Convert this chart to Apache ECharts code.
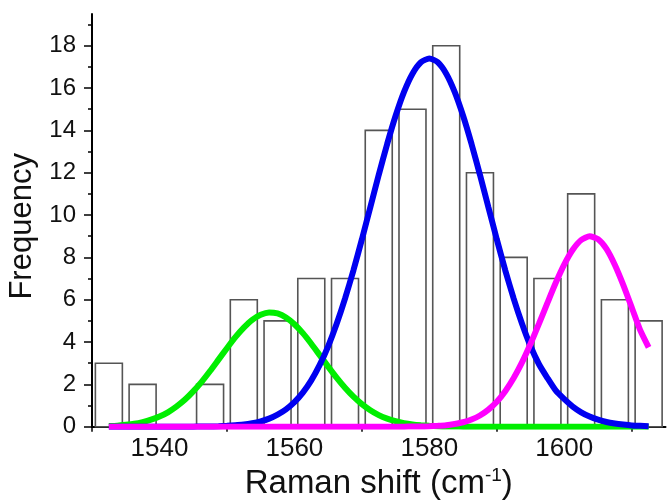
<!DOCTYPE html>
<html>
<head>
<meta charset="utf-8">
<script src="https://cdn.jsdelivr.net/npm/echarts@6/dist/echarts.min.js"></script>
<style>
html,body{margin:0;padding:0;background:#fff;}
#chart{width:667px;height:501px;}
</style>
</head>
<body>
<div id="chart"></div>
<script>
// Histogram bins (Raman shift, cm^-1) and counts
const binCenters = [1532.5,1537.5,1542.5,1547.5,1552.5,1557.5,1562.5,1567.5,1572.5,1577.5,1582.5,1587.5,1592.5,1597.5,1602.5,1607.5,1612.5];
const counts     = [3,2,0,2,6,5,7,7,14,15,18,12,8,7,11,6,5];

// Fitted peak curves
const fitX = [1532.5,1533.75,1535,1536.25,1537.5,1538.75,1540,1541.25,1542.5,1543.75,1545,1546.25,1547.5,1548.75,1550,1551.25,1552.5,1553.75,1555,1556.25,1557.5,1558.75,1560,1561.25,1562.5,1563.75,1565,1566.25,1567.5,1568.75,1570,1571.25,1572.5,1573.75,1575,1576.25,1577.5,1578.75,1580,1581.25,1582.5,1583.75,1585,1586.25,1587.5,1588.75,1590,1591.25,1592.5,1593.75,1595,1596.25,1597.5,1598.75,1600,1601.25,1602.5,1603.75,1605,1606.25,1607.5,1608.75,1610,1611.25,1612.5];
const greenFit = [0.03,0.05,0.09,0.14,0.22,0.33,0.48,0.68,0.95,1.27,1.67,2.12,2.63,3.17,3.71,4.23,4.68,5.05,5.29,5.40,5.35,5.16,4.84,4.42,3.92,3.38,2.84,2.32,1.84,1.42,1.07,0.78,0.55,0.38,0.26,0.17,0.11,0.07,0.04,0.02,0.01,0.01,
  0,0,0,0,0,0,0,0,0,0,0,0,0,0,0,0,0,0,0,0,0,0,0];
const blueFit = [0,0,0,0,0,0,0,0,0,0,0,
  0.01,0.01,0.02,0.04,0.07,0.10,0.16,0.25,0.38,0.57,0.82,1.16,1.61,2.19,2.92,3.80,4.85,6.05,7.39,8.85,10.37,11.90,13.36,14.69,15.82,16.68,17.22,17.40,17.22,16.68,
  15.82,14.69,13.36,11.90,10.37,8.85,7.39,6.05,4.85,3.80,2.95,2.30,1.70,1.30,0.95,0.68,0.48,0.33,0.22,0.15,0.10,0.06,0.04,0.02];
const magentaFit = [0,0,0,0,0,0,0,0,0,0,0,0,0,0,0,0,0,0,0,0,0,0,0,0,0,0,0,0,0,0,0,0,0,0,0,0,
  0.01,0.01,0.02,0.04,0.07,0.13,0.21,0.34,0.53,0.81,1.18,1.68,2.30,3.05,3.92,4.87,5.85,6.81,7.67,8.36,8.82,9.00,8.86,8.40,7.64,6.69,5.63,4.56,3.75];

// Axis ticks / labels
const xTickValues  = [1530,1550,1570,1590,1610];
const xLabelValues = [1540,1560,1580,1600];
const yLabelValues = [0,2,4,6,8,10,12,14,16,18];
const yMinorValues = [1,3,5,7,9,11,13,15,17,19];

const FONT = 'Liberation Sans, Arial, sans-serif';
const binHalf = 2; // drawn bar half-width in x units (80% of bin)

const pair = (xs, ys) => xs.map((x, i) => [x, ys[i]]);
const plain = v => String(v);

const chart = echarts.init(document.getElementById('chart'), null, {renderer: 'canvas'});
chart.setOption({
  animation: false,
  backgroundColor: '#ffffff',
  grid: {left: 92, right: 1.5, top: 14, bottom: 74.3, containLabel: false, outerBoundsMode: 'none'},
  xAxis: {
    type: 'value', min: 1530, max: 1615,
    axisLine: {show: true, onZero: false, lineStyle: {color: '#000', width: 2}},
    axisTick: {show: true, inside: false, length: 5, customValues: xTickValues, lineStyle: {color: '#000', width: 1.5}},
    axisLabel: {customValues: xLabelValues, formatter: plain, fontFamily: FONT, fontSize: 26, color: '#111', margin: 9},
    splitLine: {show: false},
    name: 'Raman shift (cm{sup|-1})',
    nameLocation: 'middle', nameGap: 39,
    nameTextStyle: {fontFamily: FONT, fontSize: 33, color: '#111',
      rich: {sup: {fontFamily: FONT, fontSize: 19, color: '#111', padding: [0, 0, 16, 0]}}}
  },
  yAxis: [{
    type: 'value', min: 0, max: 19.5,
    axisLine: {show: true, onZero: false, lineStyle: {color: '#000', width: 2}},
    axisTick: {show: true, inside: false, length: 8, customValues: yLabelValues, lineStyle: {color: '#000', width: 1.5}},
    axisLabel: {customValues: yLabelValues, formatter: plain, fontFamily: FONT, fontSize: 24, color: '#111', margin: 16},
    splitLine: {show: false},
    name: 'Frequency', nameLocation: 'middle', nameGap: 52, nameRotate: 90,
    nameTextStyle: {fontFamily: FONT, fontSize: 31, color: '#111', padding: [0, 12, 0, 0]}
  }, {
    type: 'value', min: 0, max: 19.5, position: 'left',
    axisLine: {show: false},
    axisTick: {show: true, inside: false, length: 4, customValues: yMinorValues, lineStyle: {color: '#000', width: 1.5}},
    axisLabel: {show: false},
    splitLine: {show: false}
  }],
  series: [{
    type: 'custom', name: 'hist', z: 1,
    data: pair(binCenters, counts),
    renderItem: function (params, api) {
      const x = api.value(0), y = api.value(1);
      if (!y) return null;
      const p0 = api.coord([x - binHalf, y]);
      const p1 = api.coord([x + binHalf, 0]);
      return {type: 'rect', shape: {x: p0[0], y: p0[1], width: p1[0] - p0[0], height: p1[1] - p0[1]},
        style: {fill: '#ffffff', stroke: '#555555', lineWidth: 1.6}};
    }
  }, {
    type: 'line', name: 'green', z: 3, smooth: 0.2, showSymbol: false, clip: true,
    data: pair(fitX, greenFit), lineStyle: {color: '#00ee00', width: 6}
  }, {
    type: 'line', name: 'blue', z: 4, smooth: 0.2, showSymbol: false, clip: true,
    data: pair(fitX, blueFit), lineStyle: {color: '#0000f0', width: 6}
  }, {
    type: 'line', name: 'magenta', z: 5, smooth: 0.2, showSymbol: false, clip: true,
    data: pair(fitX, magentaFit), lineStyle: {color: '#ff00ff', width: 6}
  }]
});
</script>
</body>
</html>
